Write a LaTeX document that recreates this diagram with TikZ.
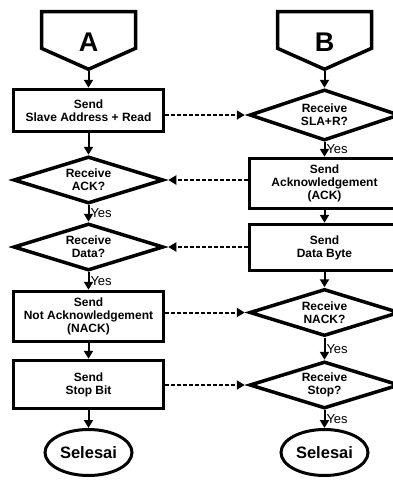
\documentclass[tikz,border=0pt]{standalone}
\usepackage{fontspec}
\setmainfont{Liberation Sans}
\usetikzlibrary{arrows.meta,shapes.geometric,shapes.symbols}

\newcommand{\turun}[1]{\raisebox{-21.5pt}[0pt][0pt]{#1}}
\tikzset{
  kotak/.style={draw,line width=3.5pt,minimum width=150pt,inner sep=0pt,
    align=center,font=\bfseries\fontsize{12}{13}\selectfont},
  ketupat/.style={diamond,draw,line width=3.5pt,aspect=3,inner sep=0pt,
    minimum width=150pt,minimum height=47pt,align=center,
    font=\bfseries\fontsize{12}{13}\selectfont},
  elips/.style={ellipse,draw,line width=3pt,minimum width=87pt,minimum height=46pt,
    inner sep=0pt,font=\bfseries\fontsize{16.5}{17}\selectfont},
  sinyal/.style={signal,signal to=south,signal pointer angle=132,draw,line width=3.5pt,
    minimum width=94pt,minimum height=41pt,inner sep=0pt,
    font=\bfseries\fontsize{27}{27}\selectfont},
  panah/.style={line width=2pt,-{Triangle[width=9pt,length=8pt]}},
  putus/.style={panah,dash pattern=on 4pt off 2pt,shorten >=3pt},
  ya/.style={right,inner sep=1pt,font=\fontsize{13}{13}\selectfont}
}

\begin{document}
\begin{tikzpicture}[x=1pt,y=-1pt]
\clip (0,0) rectangle (393,480);
% kolom A
\node[sinyal] (A) at (88.5,30) {\turun{A}};
\node[kotak,minimum height=42pt] (L1) at (88.5,110.5) {Send\\Slave Address + Read};
\node[ketupat] (L2) at (88.5,180) {Receive\\ACK?};
\node[ketupat] (L3) at (88.5,247) {Receive\\Data?};
\node[kotak,minimum height=50pt] (L4) at (88.5,316.5) {Send\\Not Acknowledgement\\(NACK)};
\node[kotak,minimum height=48pt] (L5) at (88.5,384.5) {Send\\Stop Bit};
\node[elips] (L6) at (88.5,452.5) {Selesai};
% kolom B
\node[sinyal] (B) at (324.5,30) {\turun{B}};
\node[ketupat,minimum height=51pt] (R1) at (324.5,115) {Receive\\SLA+R?};
\node[kotak,minimum height=50pt] (R2) at (324.5,183.5) {Send\\Acknowledgement\\(ACK)};
\node[kotak,minimum height=46pt] (R3) at (324.5,247.5) {Send\\Data Byte};
\node[ketupat] (R4) at (324.5,312.5) {Receive\\NACK?};
\node[ketupat] (R5) at (324.5,385) {Receive\\Stop?};
\node[elips] (R6) at (324.5,452.5) {Selesai};
% alur
\foreach \a/\b in {A/L1,L1/L2,L4/L5,L5/L6,B/R1,R2/R3,R3/R4}
  \draw[panah] (\a.south) -- (\b.north);
\foreach \a/\b in {L2/L3,L3/L4,R1/R2,R4/R5,R5/R6}
  \draw[panah] (\a.south) -- (\b.north) node[ya,midway] {Yes};
% sinyal antar perangkat
\draw[putus] (L1.east |- R1.west) -- (R1.west);
\draw[putus] (R2.west |- L2.east) -- (L2.east);
\draw[putus] (R3.west |- L3.east) -- (L3.east);
\draw[putus] (L4.east |- R4.west) -- (R4.west);
\draw[putus] (L5.east |- R5.west) -- (R5.west);
\end{tikzpicture}
\end{document}
